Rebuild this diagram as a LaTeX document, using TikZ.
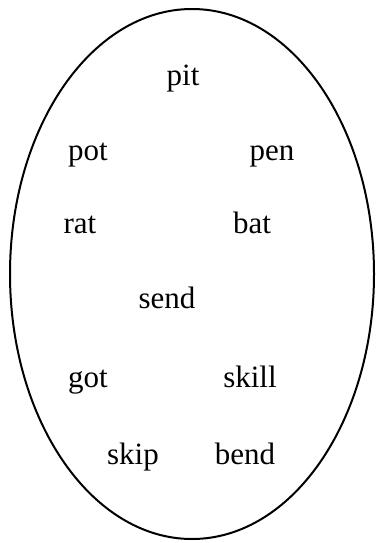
\documentclass[tikz,border=0pt]{standalone}
\usepackage{fontspec}
\setmainfont{Liberation Serif}
\usetikzlibrary{positioning,shapes.geometric}
\tikzset{word/.style={anchor=base,inner sep=0pt,font=\fontsize{31}{31}\selectfont}}
\begin{document}
\begin{tikzpicture}[x=1pt,y=-1pt]
  \useasboundingbox (0,0) rectangle (376,543);
  \node[draw,ellipse,line width=2pt,minimum width=364pt,minimum height=530pt,inner sep=0pt] (set) at (192,274) {};
  \node[word] (pit) at (183,85) {pit};
  \node[word] (pot) at (88,160) {pot};
  \node[word] (pen) at (272,160) {pen};
  \node[word] (rat) at (80,233) {rat};
  \node[word] (bat) at (252,233) {bat};
  \node[word] (send) at (167,308) {send};
  \node[word] (got) at (88,387) {got};
  \node[word] (skill) at (250,387) {skill};
  \node[word] (skip) at (133,464) {skip};
  \node[word] (bend) at (245,464) {bend};
\end{tikzpicture}
\end{document}
